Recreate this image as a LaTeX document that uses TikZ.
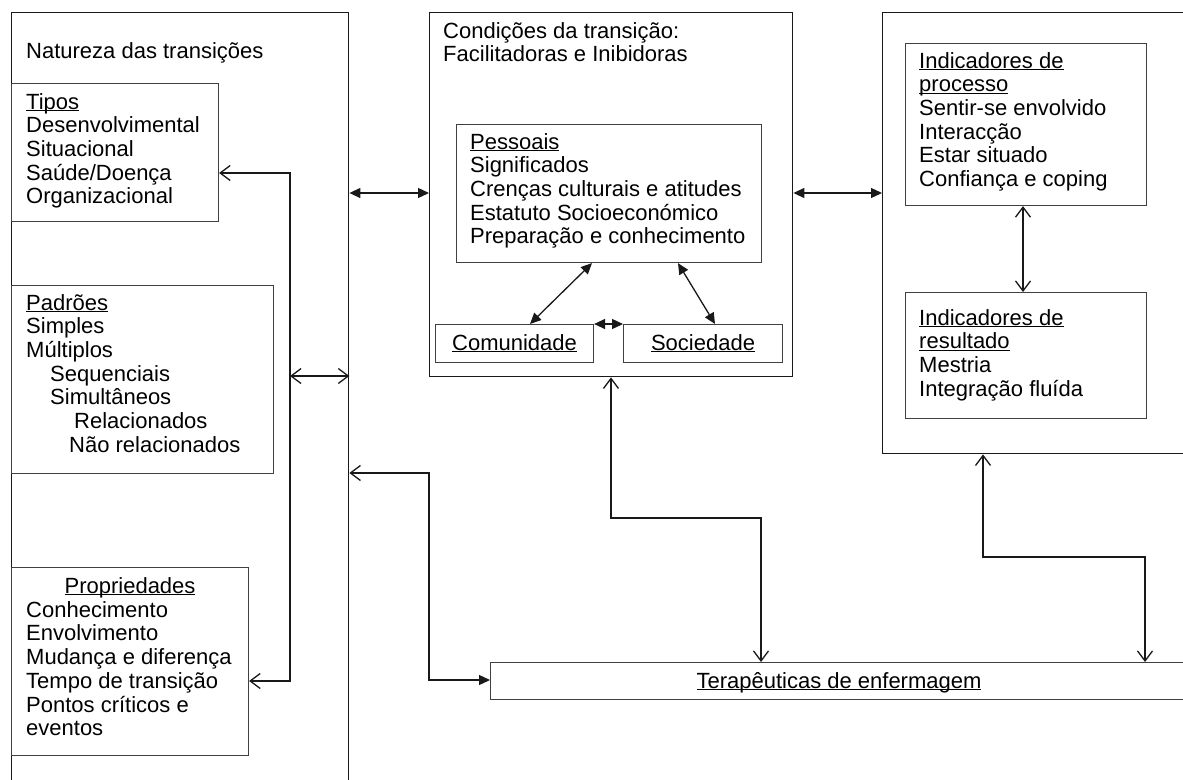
\documentclass[tikz,border=0pt]{standalone}
\usepackage{fontspec}
\setmainfont{Liberation Sans}
\usetikzlibrary{arrows.meta}
\newcommand\ulin[1]{\setbox0\hbox{#1}\rlap{\rule[-2.3pt]{\wd0}{1.1pt}}\box0}
\begin{document}
\begin{tikzpicture}[x=1pt,y=-1pt,
  every node/.style={font=\fontsize{22}{23.7}\selectfont},
  bigbox/.style={draw=black!90, line width=1.4pt, rectangle, inner sep=0pt, anchor=north west},
  smallbox/.style={draw=black!75, line width=1.1pt, rectangle, inner sep=0pt, anchor=north west},
  txt/.style={anchor=north west, inner sep=0pt, align=left},
  ctxt/.style={anchor=base, inner sep=0pt},
  conn/.style={draw=black!90, line width=1.3pt},
  bothfilled/.style={conn, {Triangle[length=11pt,width=10pt]}-{Triangle[length=11pt,width=10pt]}},
  bothopen/.style={conn, {Straight Barb[length=10pt,width=15pt]}-{Straight Barb[length=10pt,width=15pt]}},
  openfilled/.style={conn, {Straight Barb[length=10pt,width=15pt]}-{Triangle[length=11pt,width=10pt]}},
]
\useasboundingbox (0,0) rectangle (1183,779);
\clip (0,0) rectangle (1183,779);
\fill[white] (0,0) rectangle (1183,779);

% boxes
\node[bigbox, minimum width=337pt, minimum height=800pt] (nat) at (11,12) {};
\node[smallbox, minimum width=207pt, minimum height=138pt] (tipos) at (11,83) {};
\node[smallbox, minimum width=262pt, minimum height=188pt] (pad) at (11,285) {};
\node[smallbox, minimum width=237pt, minimum height=188pt] (prop) at (11,567) {};
\node[bigbox, minimum width=363pt, minimum height=364pt] (cond) at (429,12) {};
\node[smallbox, minimum width=305pt, minimum height=138pt] (pes) at (456,124) {};
\node[smallbox, minimum width=158pt, minimum height=38pt] (com) at (435,324) {};
\node[smallbox, minimum width=159pt, minimum height=38pt] (soc) at (623,324) {};
\node[bigbox, minimum width=320pt, minimum height=441pt] (ind) at (882,12) {};
\node[smallbox, minimum width=241pt, minimum height=162pt] (proc) at (905,43) {};
\node[smallbox, minimum width=241pt, minimum height=126pt] (res) at (905,292) {};
\node[smallbox, minimum width=710pt, minimum height=37pt] (ter) at (490,662) {};

% texts
\node[txt] (natT) at (26,41.4) {\strut Natureza das transições};
\node[txt] (tiposT) at (26,92.4) {\strut\ulin{Tipos}\\Desenvolvimental\\Situacional\\Saúde/Doença\\Organizacional};
\node[txt] (padT) at (26,293.4) {\strut\ulin{Padrões}\\Simples\\Múltiplos\\\hspace*{24pt}Sequenciais\\\hspace*{24pt}Simultâneos\\\hspace*{48pt}Relacionados\\\hspace*{43pt}Não relacionados};
\node[ctxt] (propH) at (prop.north |- 0,593) {\ulin{Propriedades}};
\node[txt] (propT) at (26,600.4) {\strut Conhecimento\\Envolvimento\\Mudança e diferença\\Tempo de transição\\Pontos críticos e\\eventos};
\node[txt] (condT) at (443,21.4) {\strut Condições da transição:\\Facilitadoras e Inibidoras};
\node[txt] (pesT) at (470,132.4) {\strut\ulin{Pessoais}\\Significados\\Crenças culturais e atitudes\\Estatuto Socioeconómico\\Preparação e conhecimento};
\node[ctxt] (comT) at (com.center |- 0,350) {\ulin{Comunidade}};
\node[ctxt] (socT) at (soc.center |- 0,350) {\ulin{Sociedade}};
\node[txt] (procT) at (919,51.4) {\strut\ulin{Indicadores de}\\\ulin{processo}\\Sentir-se envolvido\\Interacção\\Estar situado\\Confiança e coping};
\node[txt] (resT) at (919,308.4) {\strut\ulin{Indicadores de}\\\ulin{resultado}\\Mestria\\Integração fluída};
\node[ctxt] (terT) at (839,688) {\ulin{Terapêuticas de enfermagem}};

% connector coordinates
\coordinate (b1) at (290,173);
\coordinate (b2) at (290,681);
\coordinate (b3) at (290,376);
\coordinate (c1) at (429,473);
\coordinate (c2) at (429,680);
\coordinate (d1) at (611,518);
\coordinate (d2) at (761,518);
\coordinate (e1) at (983,557);
\coordinate (e2) at (1145,557);

% connectors
\draw[bothfilled] (nat.east |- 0,193) -- (cond.west |- 0,193);
\draw[bothfilled] (cond.east |- 0,193) -- (ind.west |- 0,193);
\draw[bothfilled] (pes.south -| 592,0) -- (com.north -| 530,0);
\draw[bothfilled] (pes.south -| 678,0) -- (soc.north -| 715,0);
\draw[bothfilled] (com.north east) -- (soc.north west);
\draw[bothopen] (proc.south -| 1023,0) -- (res.north -| 1023,0);
\draw[bothopen] (tipos.east |- b1) -- (b1) -- (b2) -- (prop.east |- b2);
\draw[bothopen] (b3) -- (nat.east |- b3);
\draw[openfilled] (nat.east |- c1) -- (c1) -- (c2) -- (ter.west |- c2);
\draw[bothopen] (cond.south -| d1) -- (d1) -- (d2) -- (ter.north -| d2);
\draw[bothopen] (ind.south -| e1) -- (e1) -- (e2) -- (ter.north -| e2);
\end{tikzpicture}
\end{document}
